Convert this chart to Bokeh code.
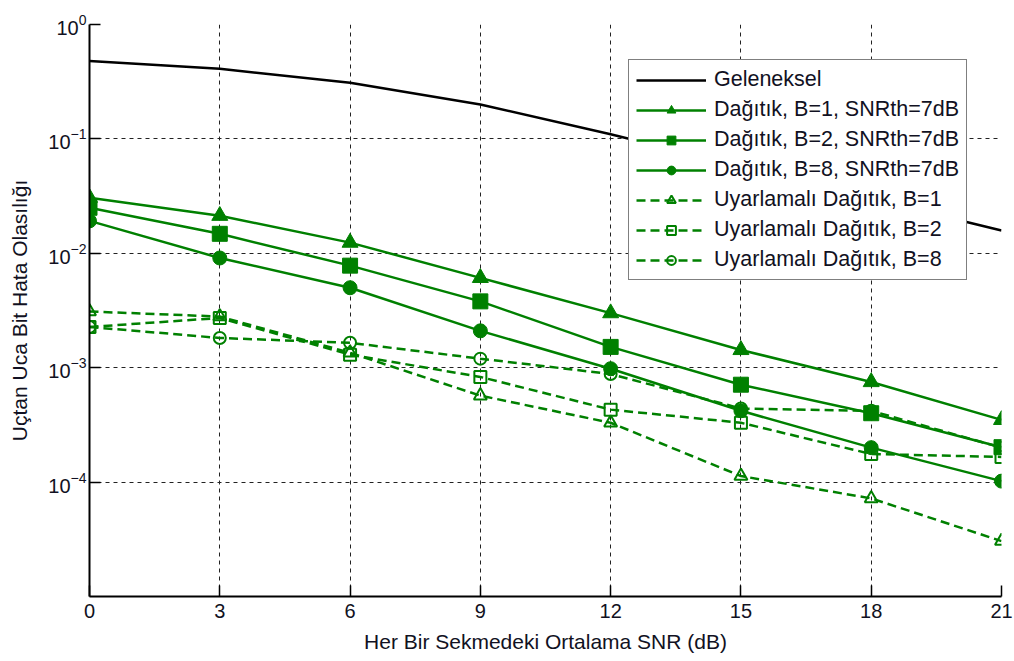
from bokeh.plotting import figure
from bokeh.models import Range1d, FixedTicker, Legend, LegendItem
from bokeh.embed import file_html
from bokeh.resources import INLINE

snr = [0, 3, 6, 9, 12, 15, 18, 21]

geleneksel = [0.48, 0.41, 0.31, 0.20, 0.11, 0.0575, 0.030, 0.0158]
dag_b1 = [0.0306, 0.0213, 0.0124, 0.0061, 0.0030, 0.00143, 0.00075, 0.00035]
dag_b2 = [0.0250, 0.0148, 0.0078, 0.0038, 0.00152, 0.00071, 0.00040, 0.000202]
dag_b8 = [0.0192, 0.0091, 0.0050, 0.0021, 0.00098, 0.00042, 0.00020, 0.000102]
uy_b1 = [0.0031, 0.0028, 0.00135, 0.00057, 0.00033, 0.000113, 0.000072, 0.0000305]
uy_b2 = [0.00227, 0.00272, 0.00130, 0.00083, 0.00043, 0.00033, 0.000176, 0.000166]
uy_b8 = [0.00227, 0.00182, 0.00165, 0.00120, 0.00088, 0.00044, 0.00042, 0.00020]

labels = ["Geleneksel",
          "Dağıtık, B=1, SNRth=7dB",
          "Dağıtık, B=2, SNRth=7dB",
          "Dağıtık, B=8, SNRth=7dB",
          "Uyarlamalı Dağıtık, B=1",
          "Uyarlamalı Dağıtık, B=2",
          "Uyarlamalı Dağıtık, B=8"]

x_ticks = [0, 3, 6, 9, 12, 15, 18, 21]
y_ticks = [1e-4, 1e-3, 1e-2, 1e-1, 1e0]

FONT = "Liberation Sans"
GREEN = "#008000"
TXT = "#111122"

p = figure(width=1013, height=658, y_axis_type="log",
           x_range=Range1d(0, 21), y_range=Range1d(1e-5, 1),
           output_backend="svg", toolbar_location=None,
           min_border_left=89, min_border_top=24, min_border_right=12, min_border_bottom=62)
p.outline_line_color = None
p.background_fill_color = "white"
p.border_fill_color = "white"

# axes
p.xaxis.ticker = FixedTicker(ticks=x_ticks)
p.yaxis.ticker = FixedTicker(ticks=y_ticks)
for ax in (p.xaxis[0], p.yaxis[0]):
    ax.axis_line_color = "black"
    ax.axis_line_width = 2
    ax.major_tick_line_color = "black"
    ax.major_tick_line_width = 1.5
    ax.major_tick_in = 11
    ax.major_tick_out = 0
    ax.minor_tick_line_color = None
    ax.major_label_text_font = FONT
    ax.major_label_text_font_size = "20px"
    ax.major_label_text_color = TXT
    ax.axis_label_text_font = FONT
    ax.axis_label_text_font_size = "21px"
    ax.axis_label_text_font_style = "normal"
    ax.axis_label_text_color = TXT
p.xaxis.axis_label = "Her Bir Sekmedeki Ortalama SNR (dB)"
p.yaxis.axis_label = "Uçtan Uca Bit Hata Olasılığı"
p.xaxis.major_label_standoff = 7
p.xaxis.axis_label_standoff = 9
p.yaxis.major_label_standoff = 3
p.yaxis.axis_label_standoff = 14

# grid
for g in (p.xgrid[0], p.ygrid[0]):
    g.grid_line_color = "#222222"
    g.grid_line_dash = "4 4"
    g.grid_line_width = 1
    g.grid_line_alpha = 1

items = []
r = p.line(snr, geleneksel, line_color="black", line_width=2.5)
items.append(LegendItem(label=labels[0], renderers=[r]))

solid = [(dag_b1, "triangle", 16), (dag_b2, "square", 15), (dag_b8, "circle", 14)]
for i, (ys, mk, sz) in enumerate(solid):
    l = p.line(snr, ys, line_color=GREEN, line_width=2.5)
    m = p.scatter(snr, ys, marker=mk, size=sz, fill_color=GREEN, line_color=GREEN)
    items.append(LegendItem(label=labels[1 + i], renderers=[l, m]))

dashed = [(uy_b1, "triangle", 13), (uy_b2, "square", 12), (uy_b8, "circle", 12)]
for i, (ys, mk, sz) in enumerate(dashed):
    l = p.line(snr, ys, line_color=GREEN, line_width=2.5, line_dash="9 5")
    m = p.scatter(snr, ys, marker=mk, size=sz, fill_color=None, line_color=GREEN, line_width=2)
    items.append(LegendItem(label=labels[4 + i], renderers=[l, m]))

legend = Legend(items=items, location=(539, 316))
legend.label_text_font = FONT
legend.label_text_font_size = "21.5px"
legend.label_text_color = TXT
legend.glyph_width = 70
legend.glyph_height = 22
legend.label_height = 22
legend.label_standoff = 8
legend.spacing = 5
legend.padding = 7
legend.margin = 0
legend.border_line_color = "black"
legend.border_line_width = 1.5
legend.background_fill_color = "white"
legend.background_fill_alpha = 1
p.add_layout(legend, "center")

open("out.html", "w").write(file_html(p, INLINE))
